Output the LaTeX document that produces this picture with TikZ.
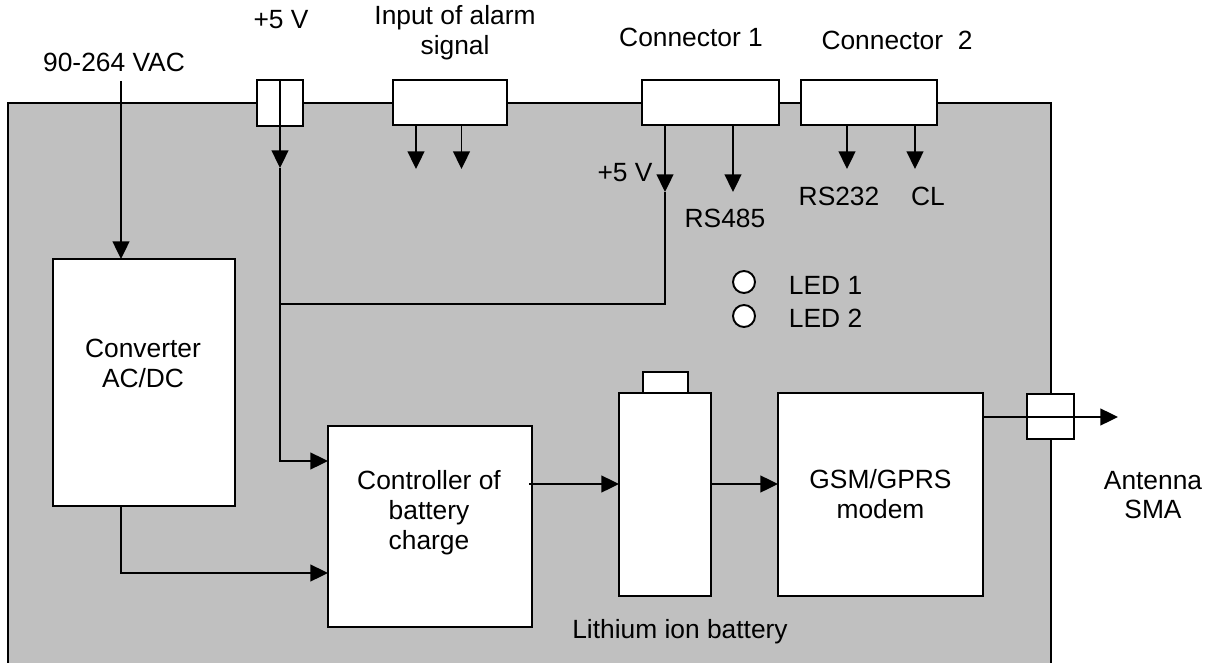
\documentclass[tikz,border=0pt]{standalone}
\usepackage{fontspec}
\setmainfont{Liberation Sans}
\usetikzlibrary{arrows.meta}
\definecolor{panelgray}{HTML}{C0C0C0}
\tikzset{
  box/.style={draw, fill=white, inner sep=0pt, outer sep=0pt},
  lbl/.style={font=\fontsize{15}{17}\selectfont, align=center, inner sep=0pt},
  arr/.style={-{Triangle[length=10pt,width=9.5pt]}},
  led/.style={circle, draw, fill=white, minimum size=0.44cm, inner sep=0pt},
}

\begin{document}
\begin{tikzpicture}[x=0.02cm, y=-0.02cm, line width=1.1pt]
  \useasboundingbox (0,0) rectangle (1209,662);
  \clip (0,0) rectangle (1209,662);
  \filldraw[fill=panelgray] (7.7,102.7) rectangle (1051,700);
  % connectors on the housing
  \node[box, minimum width=0.92cm, minimum height=0.92cm] (p5c) at (280,103) {};
  \node[box, minimum width=2.28cm, minimum height=0.90cm] (alarmc) at (450,102.5) {};
  \node[box, minimum width=2.74cm, minimum height=0.90cm] (conn1) at (710.5,102.5) {};
  \node[box, minimum width=2.72cm, minimum height=0.90cm] (conn2) at (869,102.5) {};
  \node[box, minimum width=0.94cm, minimum height=0.90cm] (antc) at (1050.5,416.5) {};
  % blocks
  \node[box, minimum width=3.64cm, minimum height=4.94cm] (conv) at (144,382.5) {};
  \node[box, minimum width=4.08cm, minimum height=4.02cm] (ctrl) at (430,526.5) {};
  \node[box, minimum width=0.90cm, minimum height=0.42cm] (cap) at (665.5,382.5) {};
  \node[box, minimum width=1.84cm, minimum height=4.06cm] (bat) at (665,494.5) {};
  \node[box, lbl, minimum width=4.10cm, minimum height=4.06cm] (modem) at (880.5,494.5) {GSM/GPRS\\modem};
  \node[led] (led1) at (744,282) {};
  \node[led] (led2) at (744,316) {};
  % wire ends
  \coordinate (vac) at (121,81);
  \coordinate (t5) at (280,168);
  \coordinate (j5) at (280,304);
  \coordinate (c1p) at (665,192);
  \coordinate (rs485) at (733,192);
  \coordinate (al1) at (416,169);
  \coordinate (al2) at (461.5,169);
  \coordinate (rs232) at (847,169);
  \coordinate (cl) at (915,169);
  \coordinate (ctrlin1) at (328,461);
  \coordinate (ctrlin2) at (328,573);
  \coordinate (chg) at (529,484);
  \coordinate (ant) at (1118,417);
  % wires
  \draw[arr] (vac) -- (vac |- conv.north);
  \draw[arr] (p5c.north) -- (t5);
  \draw[arr] (t5) |- (ctrlin1);
  \draw[arr] (c1p |- conn1.south) -- (c1p);
  \draw (c1p) |- (j5);
  \draw[arr] (rs485 |- conn1.south) -- (rs485);
  \draw[arr] (al1 |- alarmc.south) -- (al1);
  \draw[arr] (al2 |- alarmc.south) -- (al2);
  \draw[arr] (rs232 |- conn2.south) -- (rs232);
  \draw[arr] (cl |- conn2.south) -- (cl);
  \draw[arr] (conv.south -| vac) |- (ctrlin2);
  \draw[arr] (chg) -- (chg -| bat.west);
  \draw[arr] (chg -| bat.east) -- (chg -| modem.west);
  \draw[arr] (ant -| modem.east) -- (ant);
  % labels
  \node[lbl] (vaclbl) at (114,62) {90-264 VAC};
  \node[lbl] (p5lbl) at (281,20) {+5 V};
  \node[lbl] (alarmlbl) at (455,33) {Input of alarm\\signal};
  \node[lbl] (conn1lbl) at (691,37) {Connector 1};
  \node[lbl] (conn2lbl) at (897,40) {Connector~~2};
  \node[lbl] (c1plbl) at (625,173) {+5 V};
  \node[lbl] (rs485lbl) at (725,218) {RS485};
  \node[lbl] (rs232lbl) at (839,196) {RS232};
  \node[lbl] (cllbl) at (928,196) {CL};
  \node[lbl, anchor=west] (led1lbl) at (788,285) {LED 1};
  \node[lbl, anchor=west] (led2lbl) at (788,318) {LED 2};
  \node[lbl] (convlbl) at (143,363) {Converter\\AC/DC};
  \node[lbl] (ctrllbl) at (429,513) {Controller of\\battery\\charge};
  \node[lbl] (batlbl) at (680,632) {Lithium ion battery};
  \node[lbl] (antlbl) at (1153,495) {Antenna\\SMA};
\end{tikzpicture}
\end{document}
